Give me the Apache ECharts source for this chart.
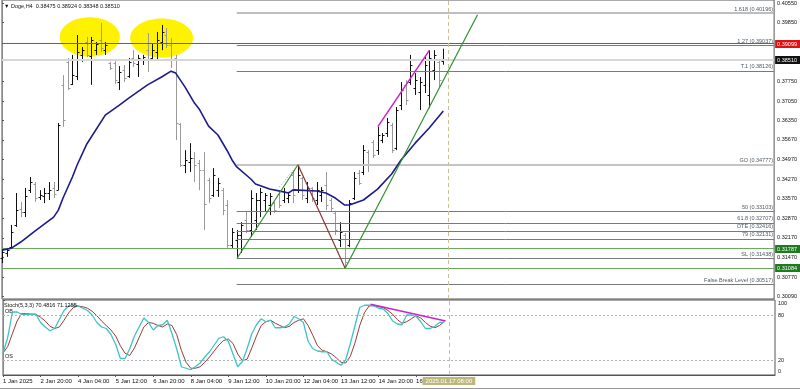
<!DOCTYPE html>
<html><head><meta charset="utf-8">
<script src="https://cdn.jsdelivr.net/npm/echarts@6/dist/echarts.min.js"></script>
<style>html,body{margin:0;padding:0;background:#fff}#c{width:800px;height:389px}</style>
</head><body><div id="c"></div>
<script>
// ---------- DATA ----------
const symbolName = 'Doge,H4';
const xTickIndex = [0, 8, 16, 24, 32, 40, 48, 56, 64, 72, 80, 88];
const xTickLabels = ['1 Jan 2025','2 Jan 20:00','4 Jan 04:00','5 Jan 12:00','6 Jan 20:00','8 Jan 04:00','9 Jan 12:00','10 Jan 20:00','12 Jan 04:00','13 Jan 12:00','14 Jan 20:00','16 Jan 04:00'];
const cursorIndex = 95;
const cursorLabel = '2025.01.17 08:00';

const opens = [.3145,.3163,.3184,.3263,.3320,.3309,.3387,.3409,.3363,.3366,
.3377,.3395,.3387,.3763,.3845,.3766,.3795,.3870,.3916,.3866,
.3887,.3923,.3887,.3841,.3841,.3773,.3816,.3795,.3859,.3838,
.3852,.3887,.3859,.3880,.3916,.3941,.3905,.3859,.3623,.3477,
.3488,.3502,.3484,.3459,.3423,.3370,.3387,.3387,.3334,.3191,
.3209,.3227,.3280,.3245,.3280,.3352,.3352,.3334,.3341,.3373,
.3352,.3359,.3441,.3387,.3431,.3359,.3395,.3352,.3370,.3406,
.3352,.3306,.3209,.3227,.3191,.3359,.3448,.3452,.3523,.3559,
.3530,.3566,.3591,.3620,.3537,.3691,.3763,.3773,.3752,.3738,
.3763,.3727,.3816,.3845,.38475];
const highs = [.3181,.3181,.3263,.3377,.3345,.3395,.3434,.3416,.3387,.3395,
.3416,.3416,.3627,.3798,.3859,.3870,.3941,.3898,.3934,.3934,
.3916,.3984,.3916,.3845,.3848,.3830,.3834,.3859,.3887,.3870,
.3870,.3948,.3912,.3952,.3977,.3966,.3930,.3870,.3627,.3530,
.3555,.3523,.3495,.3523,.3431,.3466,.3431,.3395,.3352,.3252,
.3245,.3273,.3309,.3387,.3377,.3395,.3377,.3377,.3345,.3380,
.3395,.3377,.3452,.3478,.3434,.3416,.3398,.3416,.3398,.3452,
.3359,.3309,.3273,.3234,.3352,.3452,.3459,.3548,.3530,.3566,
.3613,.3591,.3645,.3627,.3684,.3773,.3780,.3870,.3805,.3791,
.3862,.3887,.3887,.3852,.38924];
const lows = [.3127,.3149,.3181,.3256,.3291,.3291,.3377,.3345,.3352,.3341,
.3352,.3359,.3387,.3613,.3745,.3763,.3780,.3845,.3862,.3763,
.3870,.3880,.3870,.3816,.3766,.3745,.3773,.3788,.3827,.3791,
.3834,.3809,.3852,.3852,.3887,.3895,.3823,.3566,.3470,.3448,
.3452,.3416,.3387,.3245,.3341,.3363,.3363,.3298,.3181,.3181,
.3144,.3163,.3234,.3220,.3245,.3291,.3309,.3298,.3306,.3323,
.3341,.3341,.3341,.3377,.3352,.3341,.3345,.3334,.3345,.3316,
.3309,.3227,.3184,.3108,.3184,.3352,.3406,.3441,.3452,.3502,
.3513,.3555,.3577,.3520,.3530,.3673,.3691,.3763,.3727,.3673,
.3734,.3680,.3780,.3752,.38348];
const closes = [.3166,.3173,.3238,.3316,.3309,.3366,.3416,.3359,.3370,.3377,
.3387,.3373,.3620,.3637,.3752,.3798,.3880,.3887,.3870,.3923,
.3909,.3895,.3905,.3823,.3780,.3809,.3788,.3845,.3841,.3859,
.3862,.3852,.3887,.3923,.3952,.3905,.3852,.3627,.3477,.3495,
.3502,.3477,.3459,.3338,.3359,.3441,.3413,.3316,.3191,.3238,
.3227,.3263,.3245,.3359,.3352,.3380,.3370,.3366,.3316,.3334,
.3380,.3370,.3370,.3441,.3370,.3395,.3359,.3387,.3387,.3334,
.3323,.3245,.3238,.3131,.3341,.3431,.3413,.3530,.3477,.3513,
.3584,.3584,.3630,.3530,.3673,.3745,.3709,.3834,.3780,.3773,
.3834,.3859,.3870,.3780,.38510];

// moving average: [bar index, value]
const maIndex = [0,2,4,7,11,12,13,15,16,18,22,25,27,31,34,36,37,39,41,42,44,46,48,49,50,53,54,57,60,61,62,67,69,71,73,74,77,80,83,85,88,91,94];
const maValue = [.3173,.3180,.3202,.3241,.3291,.3316,.3359,.3434,.3477,.3550,.3655,.3691,.3716,.3763,.3791,.3812,.3805,.3755,.3698,.3677,.3616,.3584,.3527,.3495,.3470,.3427,.3409,.3391,.3381,.3377,.3388,.3384,.3377,.3359,.3334,.3334,.3352,.3391,.3445,.3495,.3555,.3609,.3670];

// Stochastic (5,3,3)
const stochMain = [29,50,84,84,81,81,81,81,70,64,59,62,74,86,92,93,92,89,86,80,
70,64,62,54,41,22,22,35,52,64,76,70,60,66,67,73,55,35,11,9,
7,11,16,24,31,40,49,51,45,28,11,18,35,55,67,75,71,73,63,63,
64,68,78,75,70,45,35,32,31,31,21,17,13,20,42,66,90,93,93,92,
89,88,82,72,68,67,80,80,78,71,62,62,65,70,70.4816];
const stochSignal = [29,38,55,72,82,82,81,81,77,72,65,62,64,73,83,90,92,91,89,85,
79,72,66,60,52,39,29,26,36,50,64,70,69,66,64,68,66,54,33,17,
9,9,11,17,24,32,40,46,48,42,28,19,21,36,52,66,71,73,69,66,
63,65,70,73,75,66,53,39,33,31,28,23,17,16,25,43,66,83,92,93,
91,90,86,81,74,69,71,75,79,76,70,65,63,66,71.1255];
const stochLevels = [80, 20];
const stochLevelNames = ['OB', 'OS'];
const stochTicks = [0, 20, 80, 100];

// price axis tick labels
const priceTicks = [0.40550,0.39850,0.37750,0.37050,0.36350,0.35670,0.34970,0.34270,0.33570,0.32870,0.32170,0.31470,0.30770,0.30090];

// fibonacci / level lines
const fibNames = ['1.618','1.27','T.1','GO','50','61.8','OTE','79','SL','False Break Level'];
const fibValues = [0.40196,0.39037,0.38126,0.34777,0.33103,0.32707,0.32416,0.32131,0.31438,0.30517];
const fibStart = 50;

// full-width price lines with tags
const tagValues = [0.39099, 0.38510, 0.31787, 0.31084];

// trend lines [index, price]
const trendUpA = [[50.06,0.31440],[63.04,0.34777]];
const trendDotted = [[59.1,0.33990],[63.04,0.34777]];
const trendDown = [[63.04,0.34777],[73.1,0.31084]];
const trendUpB = [[73.1,0.31084],[101.3,0.40130]];
const divergencePrice = [[80.06,0.36140],[91.06,0.38870]];
const divergenceStoch = [[78.3,94.3],[94.3,72]];

// highlight ellipses [centerIndex, centerPrice, radiusIndex, radiusPrice]
const ellipses = [[18.7,0.3934,6.4,0.0070],[34.0,0.3930,6.7,0.0070]];

// ---------- CHART ----------
const X_MAX = 164.47, Y_MIN = 0.29986, Y_MAX = 0.40660;
const F = '"Liberation Sans", Arial, sans-serif';
const chart = echarts.init(document.getElementById('c'));

const barData = opens.map((o,i)=>[i,o,highs[i],lows[i],closes[i]]);
function renderBar(params, api){
  const i=api.value(0), o=api.value(1), h=api.value(2), l=api.value(3), c=api.value(4);
  const ph=api.coord([i,h]), pl=api.coord([i,l]), po=api.coord([i,o]), pc=api.coord([i,c]);
  const x=Math.round(ph[0])+0.5;
  const col = c>=o ? '#111' : '#9a9a9a';
  const st={stroke:col,lineWidth:1};
  const yo=Math.round(po[1])+0.5, yc=Math.round(pc[1])+0.5;
  return {type:'group',children:[
    {type:'line',shape:{x1:x,y1:ph[1],x2:x,y2:pl[1]},style:st},
    {type:'line',shape:{x1:x-2,y1:yo,x2:x,y2:yo},style:st},
    {type:'line',shape:{x1:x,y1:yc,x2:x+2,y2:yc},style:st}
  ]};
}
function renderEllipse(params, api){
  const c=api.coord([api.value(0),api.value(1)]);
  const s=api.size([api.value(2),api.value(3)]);
  return {type:'ellipse',shape:{cx:c[0],cy:c[1],rx:s[0],ry:s[1]},style:{fill:'#FFF200'}};
}
const tagBg = ['#e01010','#111111','#1f7a1f','#1f7a1f'];
function renderTag(params, api){
  const v=api.value(1);
  const p=api.coord([api.value(0),v]);
  const y=Math.round(p[1]);
  return {type:'group',children:[
    {type:'rect',shape:{x:p[0]+1,y:y-4,width:25,height:8},style:{fill:tagBg[params.dataIndex]}},
    {type:'text',x:p[0]+3,y:y,style:{text:v.toFixed(5),fill:'#fff',fontSize:5.5,fontFamily:F,verticalAlign:'middle',align:'left'}}
  ]};
}

const fibStyle = (n)=>{
  if(n==='GO') return {color:'#c4c4c4',width:2,type:'solid'};
  if(n==='1.618') return {color:'#a8a8a8',width:1.5,type:'solid'};
  return {color:'#7a7a7a',width:1,type:'solid'};
};
const fibLines = fibNames.map((n,k)=>[
  {coord:[fibStart,fibValues[k]],lineStyle:fibStyle(n),
   label:{show:true,position:'insideEndTop',distance:[1,1],formatter:n+' ('+fibValues[k].toFixed(5)+')',
          fontSize:5.5,color:'#4e5a66',fontFamily:F}},
  {coord:[X_MAX,fibValues[k]]}
]);
const tagLineStyles = [
  {color:'#a04a40',width:1,type:'solid'},
  {color:'#d6d6d6',width:2,type:'solid'},
  {color:'#6aaa5a',width:1,type:'solid'},
  {color:'#6aaa5a',width:1,type:'solid'}
];
const tagLines = tagValues.map((v,k)=>[
  {coord:[0,v],lineStyle:tagLineStyles[k],label:{show:false}},
  {coord:[X_MAX,v]}
]);

const lineSeries = (name,data,color,width,type,xi,yi,z)=>({
  type:'line',name,data,xAxisIndex:xi,yAxisIndex:yi,symbol:'none',silent:true,z:z||5,
  lineStyle:{color,width,type:type||'solid'},animation:false
});

const option = {
  animation:false,
  backgroundColor:'#fff',
  textStyle:{fontFamily:F},
  grid:[
    {left:2,right:25,top:0,height:299,show:true,borderColor:'#555',borderWidth:1},
    {left:2,right:25,top:300,height:75,show:true,borderColor:'#555',borderWidth:1}
  ],
  xAxis:[
    {type:'value',gridIndex:0,min:0,max:X_MAX,show:false},
    {type:'value',gridIndex:1,min:0,max:X_MAX,splitLine:{show:false},
     axisLine:{show:true,lineStyle:{color:'#555'}},
     axisTick:{show:true,length:2,customValues:xTickIndex,lineStyle:{color:'#555'}},
     axisLabel:{customValues:xTickIndex,formatter:v=>{const k=xTickIndex.indexOf(v);return k>=0?xTickLabels[k]:'';},
                align:'left',fontSize:6,margin:3,color:'#111',fontFamily:F}}
  ],
  yAxis:[
    {type:'value',gridIndex:0,position:'right',min:Y_MIN,max:Y_MAX,splitLine:{show:false},
     axisLine:{show:true,lineStyle:{color:'#888'}},
     axisTick:{show:true,length:2,customValues:priceTicks,lineStyle:{color:'#555'}},
     axisLabel:{customValues:priceTicks,formatter:v=>v.toFixed(5),fontSize:5.5,margin:3,color:'#111',fontFamily:F}},
    {type:'value',gridIndex:1,position:'right',min:0,max:100,splitLine:{show:false},
     axisLine:{show:true,lineStyle:{color:'#888'}},
     axisTick:{show:true,length:2,customValues:stochTicks,lineStyle:{color:'#555'}},
     axisLabel:{customValues:stochTicks,fontSize:5.5,margin:3,color:'#111',fontFamily:F,
       formatter:v=> v===100?'{t|100}': v===0?'{b|0}': String(v),
       rich:{t:{fontSize:5.5,padding:[7,0,0,0]},b:{fontSize:5.5,padding:[0,0,7,0]}}}}
  ],
  graphic:[
    {type:'text',left:4,top:3,z:100,style:{text:'\u25BC '+symbolName+'  '+[opens,highs,lows,closes].map(a=>a[a.length-1].toFixed(5)).join(' '),fontSize:5.5,fill:'#111',fontFamily:F}},
    {type:'text',left:4,top:302,z:100,style:{text:'Stoch(5,3,3) '+stochMain[stochMain.length-1].toFixed(4)+' '+stochSignal[stochSignal.length-1].toFixed(4),fontSize:5.5,fill:'#111',fontFamily:F}},
    {type:'line',z:100,shape:{x1:0,y1:388.5,x2:800,y2:388.5},style:{stroke:'#999',lineWidth:1}}
  ],
  series:[
    {type:'custom',name:'ellipses',xAxisIndex:0,yAxisIndex:0,renderItem:renderEllipse,data:ellipses,z:1,silent:true,clip:false},
    {type:'line',name:'levels',xAxisIndex:0,yAxisIndex:0,data:[],z:2,silent:true,
     markLine:{silent:true,symbol:'none',animation:false,data:[...tagLines,...fibLines]}},
    {type:'custom',name:'tags',xAxisIndex:0,yAxisIndex:0,renderItem:renderTag,data:tagValues.map(v=>[X_MAX,v]),z:20,silent:true,clip:false},
    {type:'custom',name:'bars',xAxisIndex:0,yAxisIndex:0,renderItem:renderBar,data:barData,z:4,silent:true,
     encode:{x:0,y:[1,2,3,4]},
     markLine:{silent:true,symbol:'none',animation:false,label:{show:false},
       data:[{xAxis:cursorIndex,lineStyle:{color:'#c8c090',type:[4,3],width:1}}]}},
    lineSeries('ma',maIndex.map((x,k)=>[x,maValue[k]]),'#1c1c8c',1.6,'solid',0,0,6),
    lineSeries('up1',trendUpA,'#2f8f2f',1.2,'solid',0,0,7),
    lineSeries('dot',trendDotted,'#d08080',1,[1,2],0,0,7),
    lineSeries('down',trendDown,'#8b3535',1.2,'solid',0,0,7),
    lineSeries('up2',trendUpB,'#2f8f2f',1.2,'solid',0,0,7),
    lineSeries('div1',divergencePrice,'#cc22cc',1.5,'solid',0,0,7),
    {type:'line',name:'stochMain',xAxisIndex:1,yAxisIndex:1,symbol:'none',silent:true,z:5,
     data:stochMain.map((v,i)=>[i,v]),lineStyle:{color:'#3ec4c4',width:1.3},
     markLine:{silent:true,symbol:'none',animation:false,
       data:[
         ...stochLevels.map((v,k)=>({yAxis:v,lineStyle:{color:'#b0b0b0',type:[2,2],width:1},
            label:{show:true,position:'insideStartTop',distance:[2,1],formatter:stochLevelNames[k],fontSize:5.5,color:'#111',fontFamily:F}})),
         {xAxis:cursorIndex,lineStyle:{color:'#c8c090',type:[4,3],width:1},
          label:{show:true,position:'start',distance:2,formatter:cursorLabel,color:'#fff',backgroundColor:'#bdb77a',
                 padding:[1,3,1,3],fontSize:6,fontFamily:F}}
       ]}},
    {type:'line',name:'stochSignal',xAxisIndex:1,yAxisIndex:1,symbol:'none',silent:true,z:4,
     data:stochSignal.map((v,i)=>[i,v]),lineStyle:{color:'#9b3b3b',width:1}},
    lineSeries('div2',divergenceStoch,'#cc22cc',1.6,'solid',1,1,8)
  ]
};
chart.setOption(option);
</script></body></html>
